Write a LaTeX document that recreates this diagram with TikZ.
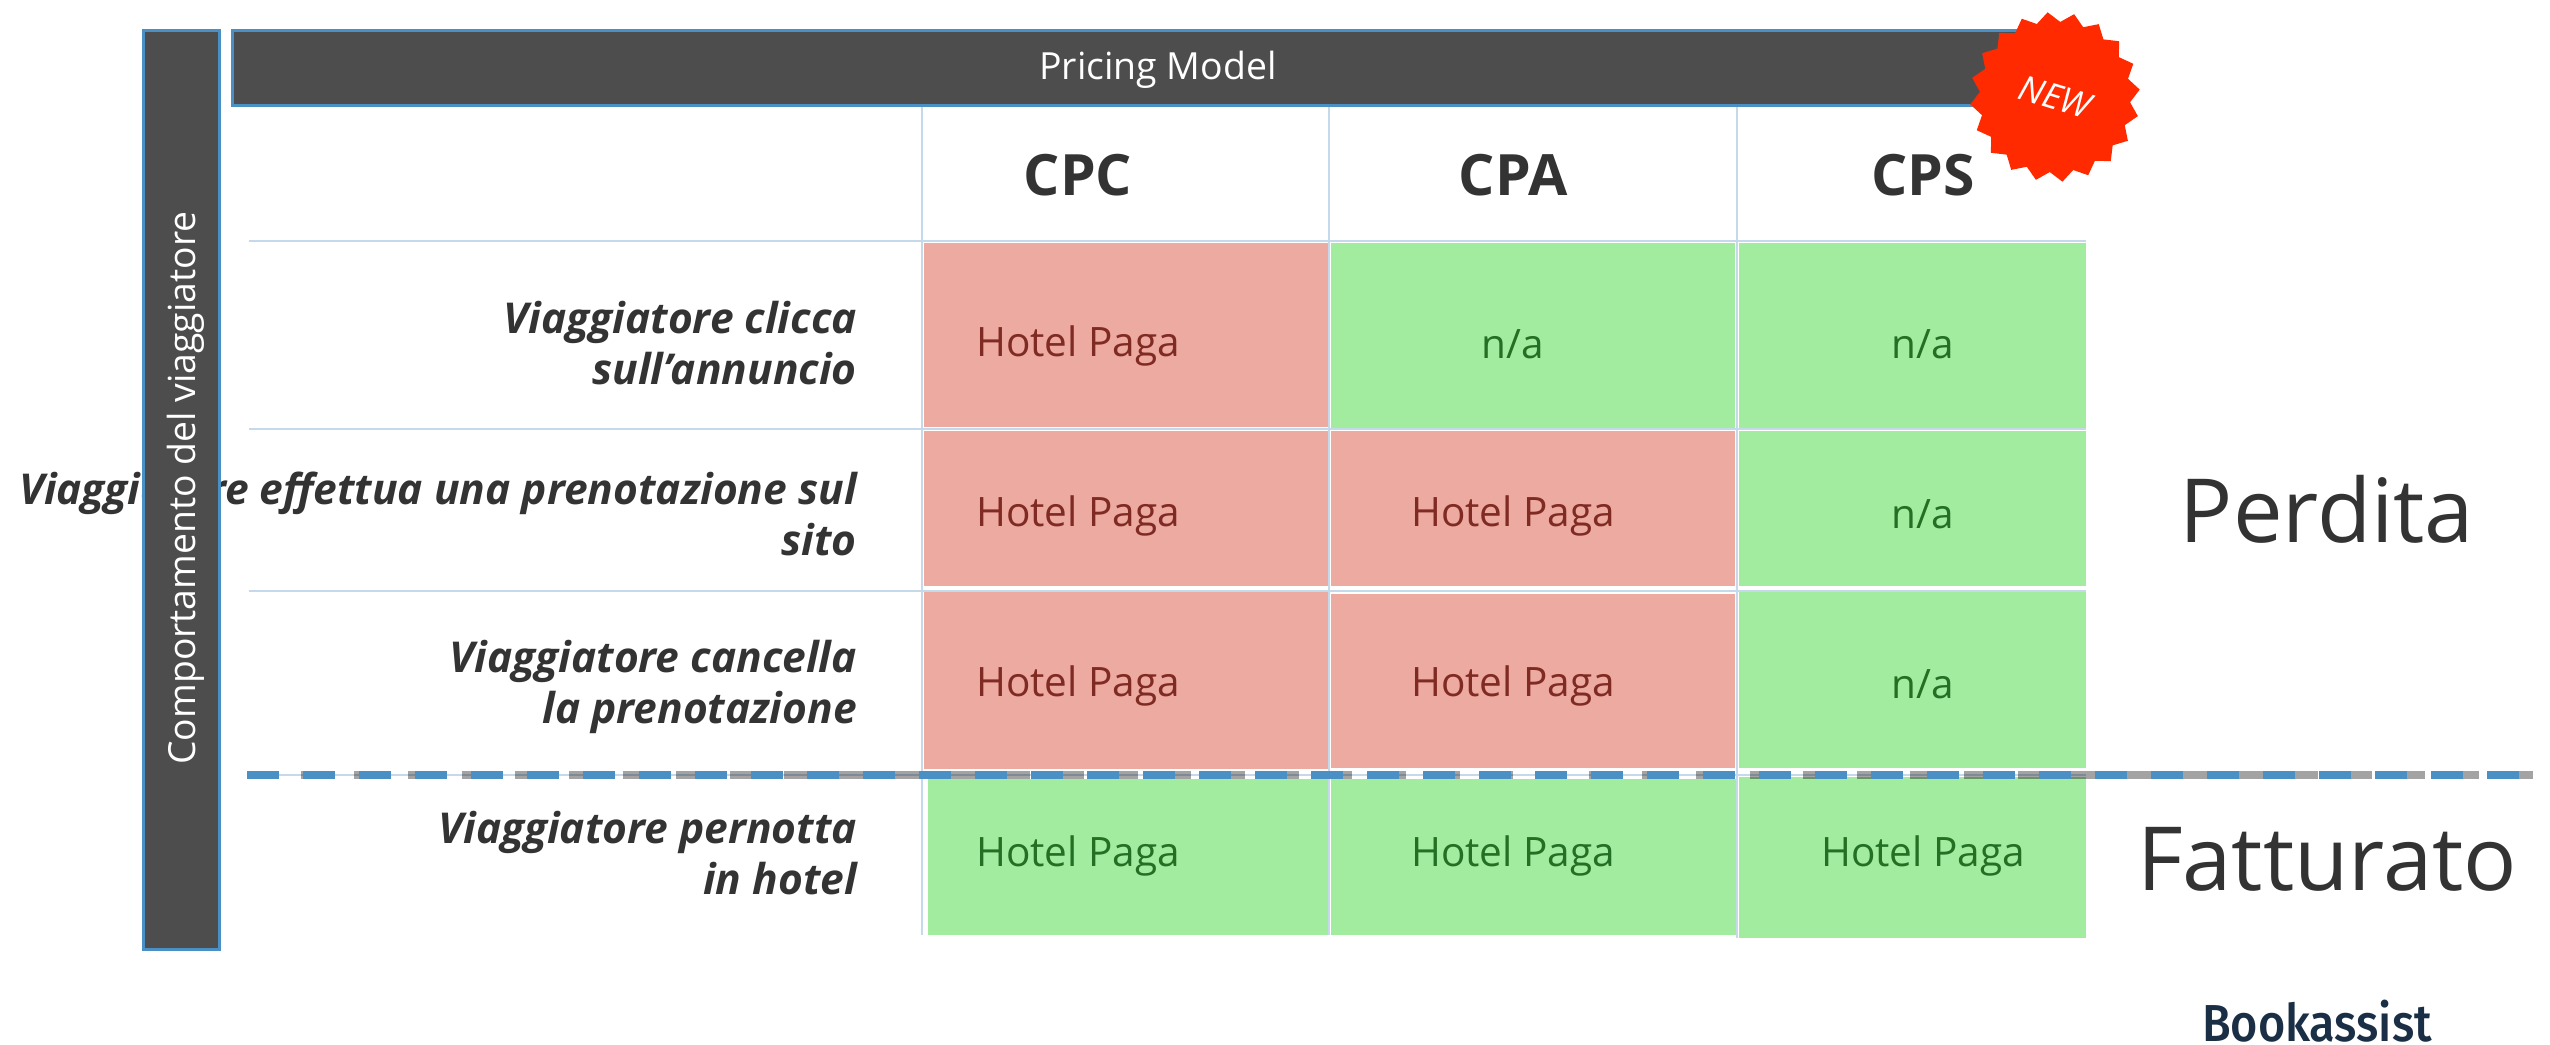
\documentclass[tikz,border=0pt]{standalone}
\usepackage{fontspec}
\setmainfont{Open Sans}
\newfontfamily\brandfont{Fira Sans Medium}
\usetikzlibrary{shapes.geometric}
\definecolor{barfill}{HTML}{4D4D4D}
\definecolor{barline}{HTML}{4A90C4}
\definecolor{gridc}{HTML}{C6D9EA}
\definecolor{redfill}{HTML}{ECAAA0}
\definecolor{greenfill}{HTML}{A2ECA0}
\definecolor{redtext}{HTML}{7F2A22}
\definecolor{greentext}{HTML}{236F24}
\definecolor{darktext}{HTML}{333333}
\definecolor{brand}{HTML}{1A2F45}
\definecolor{starred}{HTML}{FF2A00}
\newcommand{\fs}[1]{\fontsize{#1}{1.36\dimexpr#1pt\relax}\selectfont}
\tikzset{
  bar/.style={draw=barline,line width=3pt,fill=barfill,inner sep=0pt,anchor=north west,text=white},
  redcell/.style={fill=redfill,inner sep=0pt,anchor=north west},
  greencell/.style={fill=greenfill,inner sep=0pt,anchor=north west},
  gridline/.style={draw=gridc,line width=2pt},
  paidred/.style={text=redtext,font=\fs{40.5},inner sep=0pt},
  paidgreen/.style={text=greentext,font=\fs{40.5},inner sep=0pt},
  head/.style={text=darktext,font=\fs{57}\bfseries,inner sep=0pt},
  rowlabel/.style={text=darktext,font=\fontsize{42.5}{51}\selectfont\bfseries\itshape,align=right,anchor=east,inner sep=0pt},
  big/.style={text=darktext,font=\fs{88.5},inner sep=0pt},
}
\begin{document}
\begin{tikzpicture}[x=1pt,y=-1pt]
\useasboundingbox[fill=white] (0,0) rectangle (2550,1044);
% cells
\node[redcell,minimum width=404pt,minimum height=184pt] (r1c1) at (924,243) {};
\node[redcell,minimum width=404pt,minimum height=155pt] (r2c1) at (924,431) {};
\node[redcell,minimum width=404pt,minimum height=177pt] (r3c1) at (924,592) {};
\node[greencell,minimum width=400pt,minimum height=156pt] (r4c1) at (928,779) {};
\node[greencell,minimum width=404pt,minimum height=185pt] (r1c2) at (1331,243) {};
\node[redcell,minimum width=404pt,minimum height=155pt] (r2c2) at (1331,431) {};
\node[redcell,minimum width=404pt,minimum height=174pt] (r3c2) at (1331,594) {};
\node[greencell,minimum width=405pt,minimum height=156pt] (r4c2) at (1331,779) {};
\node[greencell,minimum width=347pt,minimum height=185pt] (r1c3) at (1739,243) {};
\node[greencell,minimum width=347pt,minimum height=155pt] (r2c3) at (1739,431) {};
\node[greencell,minimum width=347pt,minimum height=178pt] (r3c3) at (1739,590) {};
\node[greencell,minimum width=347pt,minimum height=161pt] (r4c3) at (1739,777) {};
% grid
\path[gridline] (249,241) -- (2086,241);
\path[gridline] (249,429) -- (2086,429);
\path[gridline] (249,591) -- (2086,591);
\path[gridline] (249,775) -- (2086,775);
\path[gridline] (922,104) -- (922,935);
\path[gridline] (1329,104) -- (1329,935);
\path[gridline] (1737,104) -- (1737,938);
% dashed divider
\coordinate (dl) at (247,775);
\coordinate (dr) at (2538,775);
\draw[black,opacity=.36,line width=8.5pt,dash pattern=on 32pt off 21.66pt] (dl) -- (dr);
\draw[barline,line width=8.5pt,dash pattern=on 32pt off 24pt] (dl) -- (dr);
% row labels
\node[rowlabel] (l1) at (857,343) {Viaggiatore clicca\\sull'annuncio};
\node[rowlabel] (l2) at (857,514) {Viaggiatore effettua una prenotazione sul\\sito};
\node[rowlabel] (l3) at (857,687) {Viaggiatore cancella\\la prenotazione};
\node[rowlabel] (l4) at (857,853) {Viaggiatore pernotta\\in hotel};
% bars
\node[bar,minimum width=1850pt,minimum height=75pt] (top) at (231,29) {};
\node[text=white,font=\fs{37.4},inner sep=0pt] (toplabel) at (1158,70) {Pricing Model};
\node[bar,minimum width=76pt,minimum height=919pt] (side) at (142,29) {};
\node[text=white,font=\fs{37.3},rotate=90,inner sep=0pt] (sidelabel) at (186,488) {Comportamento del viaggiatore};
% star
\node[star,star points=20,star point ratio=1.13,fill=starred,minimum size=170pt,inner sep=0pt,rotate=5] (star) at (2055,97) {};
\node[text=white,font=\fs{35}\itshape,rotate=-17,inner sep=0pt] (new) at (2055,97) {NEW};
% headers
\node[head] (h1) at (1078,175) {CPC};
\node[head] (h2) at (1513,175) {CPA};
\node[head] (h3) at (1923,175) {CPS};
% cell texts
\node[paidred] (t11) at (1078,346) {Hotel Paga};
\node[paidgreen] (t12) at (1513,344) {n/a};
\node[paidgreen] (t13) at (1923,344) {n/a};
\node[paidred] (t21) at (1078,516) {Hotel Paga};
\node[paidred] (t22) at (1513,516) {Hotel Paga};
\node[paidgreen] (t23) at (1923,514) {n/a};
\node[paidred] (t31) at (1078,686) {Hotel Paga};
\node[paidred] (t32) at (1513,686) {Hotel Paga};
\node[paidgreen] (t33) at (1923,684) {n/a};
\node[paidgreen] (t41) at (1078,856) {Hotel Paga};
\node[paidgreen] (t42) at (1513,856) {Hotel Paga};
\node[paidgreen] (t43) at (1923,856) {Hotel Paga};
% side words
\node[big] (perdita) at (2327,509) {Perdita};
\node[big] (fatt) at (2327,859) {Fatturato};
\node[text=brand,font=\brandfont\fs{52},inner sep=0pt,anchor=base,xscale=.9,transform shape] (brandname) at (2317,1041) {Bookassist};
\end{tikzpicture}
\end{document}
